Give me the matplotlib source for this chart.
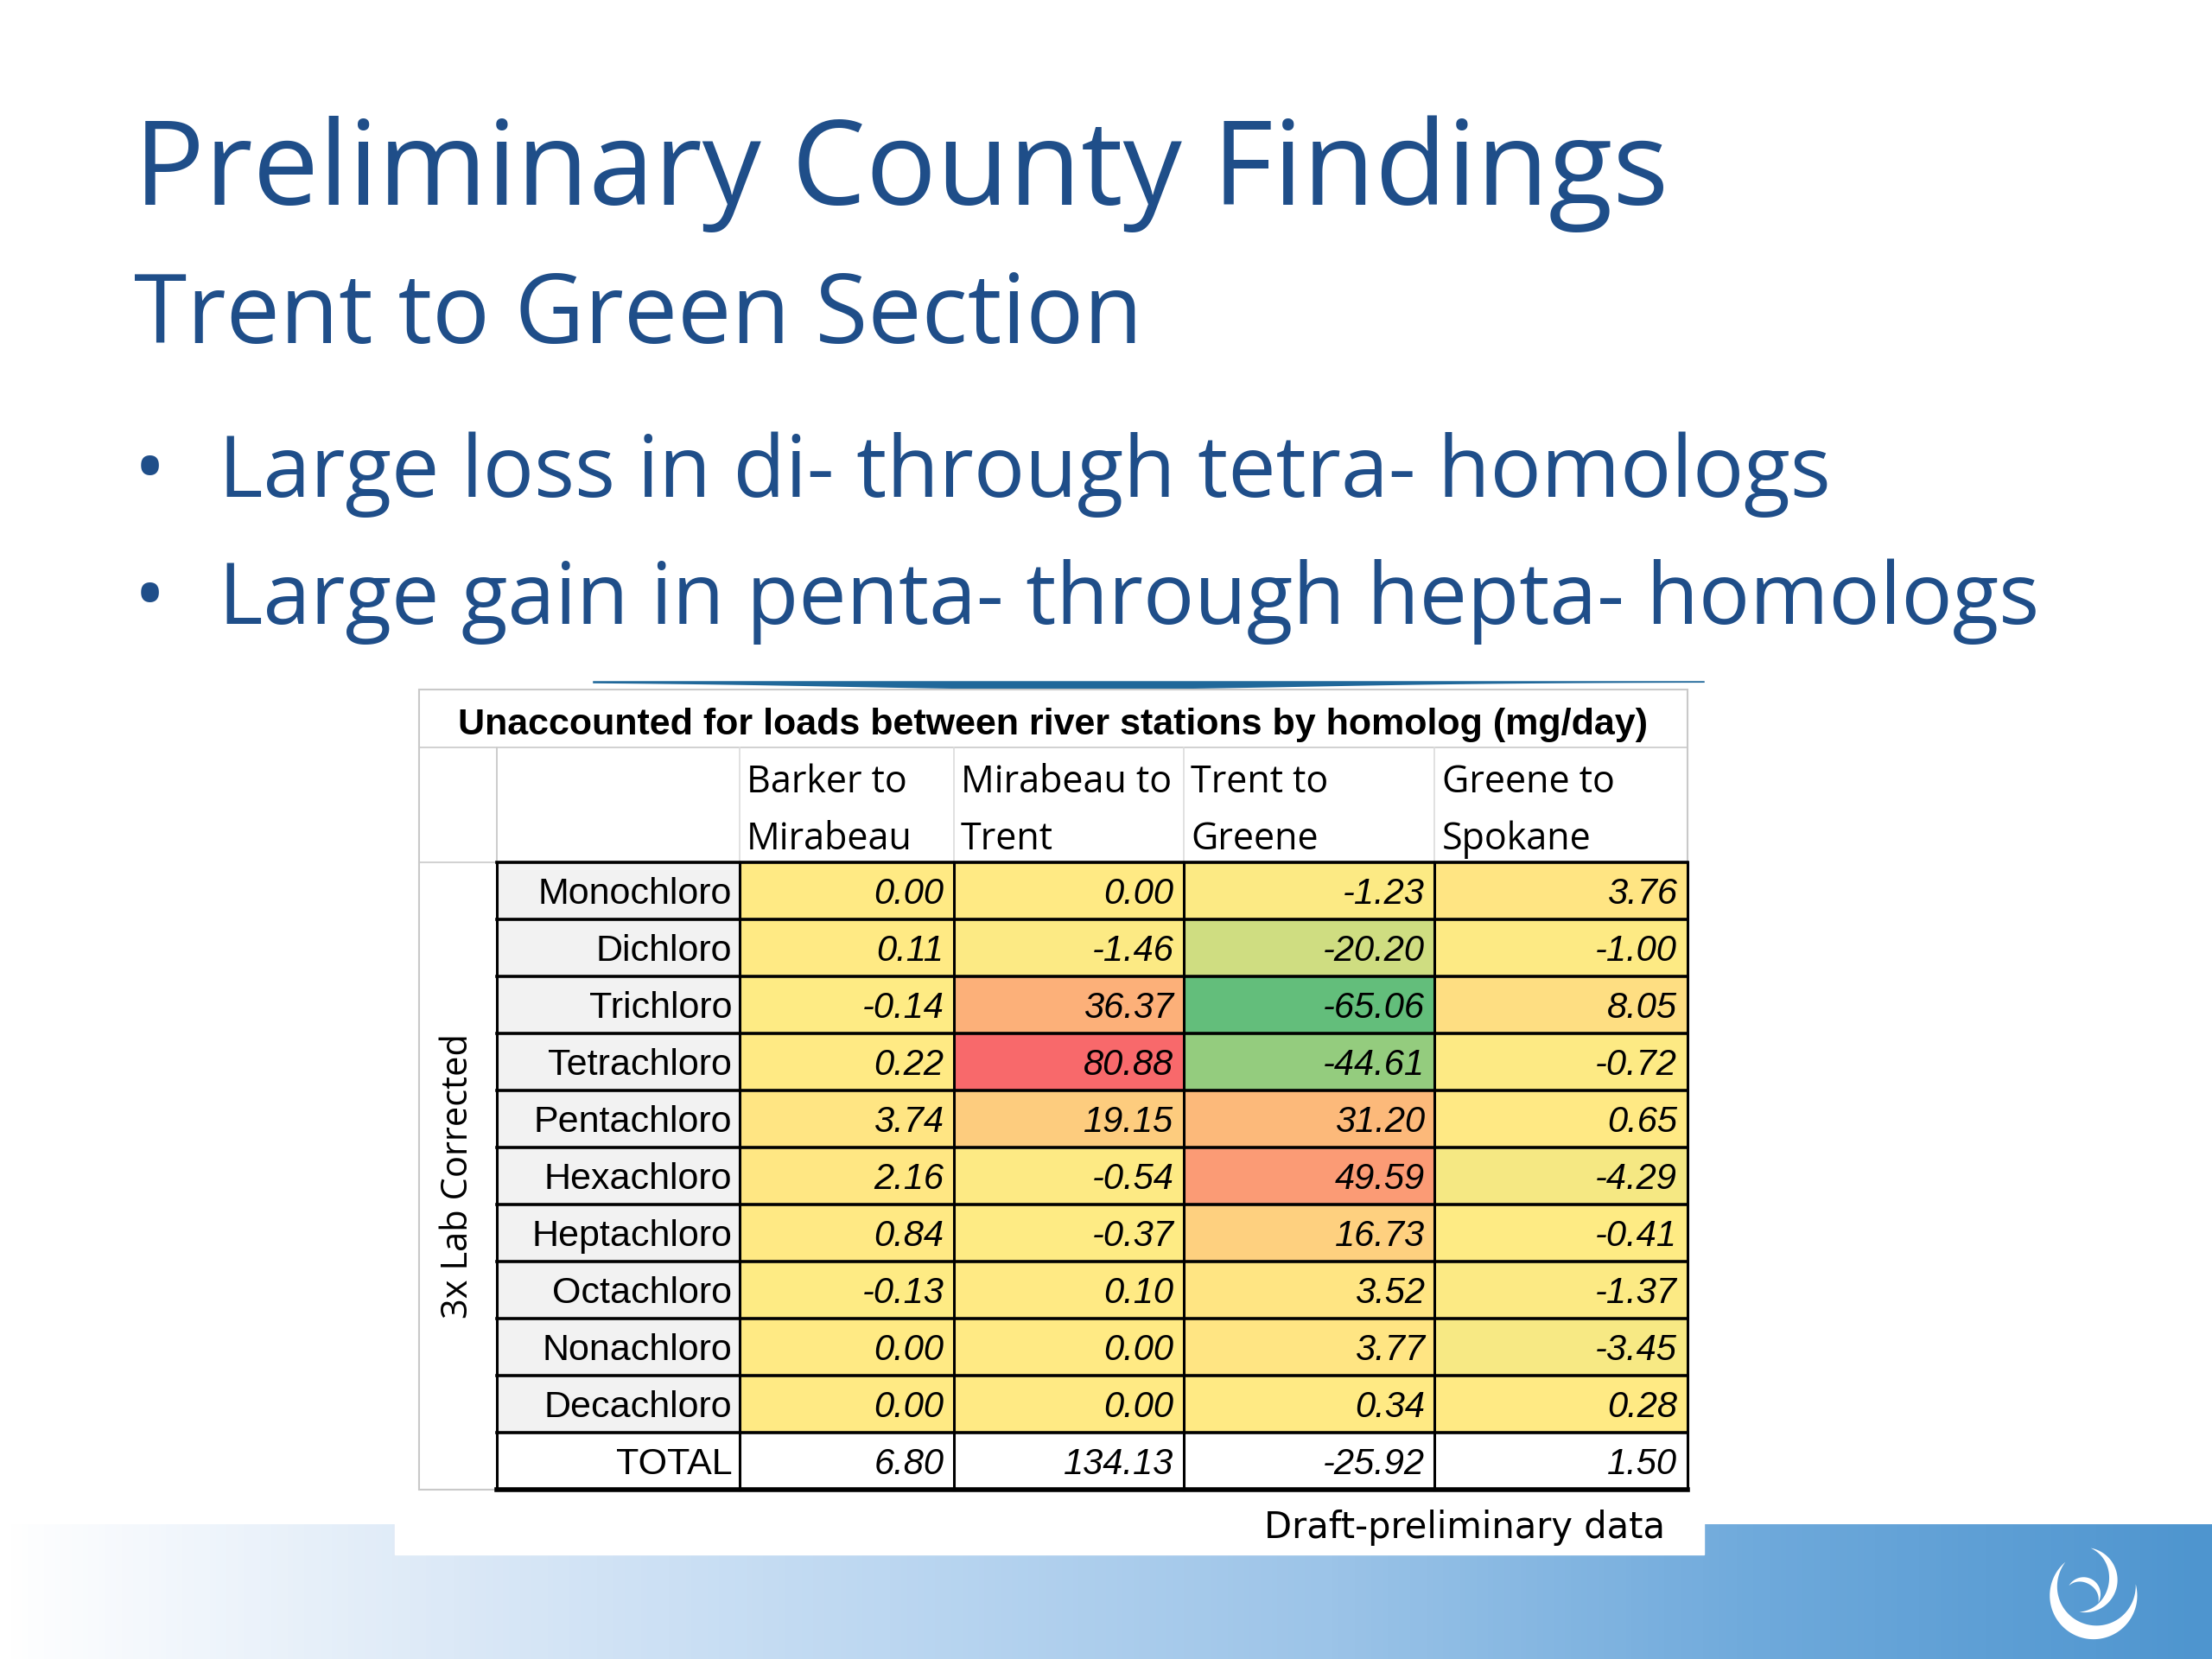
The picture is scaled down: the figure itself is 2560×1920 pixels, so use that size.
import numpy as np
import matplotlib.pyplot as plt
from matplotlib.colors import LinearSegmentedColormap, TwoSlopeNorm
from matplotlib.patches import Rectangle, Polygon

# slide text
title = 'Preliminary County Findings'
subtitle = 'Trent to Green Section'
bullets = ['Large loss in di- through tetra- homologs',
           'Large gain in penta- through hepta- homologs']
table_title = 'Unaccounted for loads between river stations by homolog (mg/day)'
side_label = '3x Lab Corrected'
note = 'Draft-preliminary data'

# table data (mg/day)
col_headers = [('Barker to', 'Mirabeau'), ('Mirabeau to', 'Trent'),
               ('Trent to', 'Greene'), ('Greene to', 'Spokane')]
homologs = ['Monochloro', 'Dichloro', 'Trichloro', 'Tetrachloro', 'Pentachloro',
            'Hexachloro', 'Heptachloro', 'Octachloro', 'Nonachloro', 'Decachloro']
barker_to_mirabeau = [0.00, 0.11, -0.14, 0.22, 3.74, 2.16, 0.84, -0.13, 0.00, 0.00]
mirabeau_to_trent = [0.00, -1.46, 36.37, 80.88, 19.15, -0.54, -0.37, 0.10, 0.00, 0.00]
trent_to_greene = [-1.23, -20.20, -65.06, -44.61, 31.20, 49.59, 16.73, 3.52, 3.77, 0.34]
greene_to_spokane = [3.76, -1.00, 8.05, -0.72, 0.65, -4.29, -0.41, -1.37, -3.45, 0.28]
totals = [6.80, 134.13, -25.92, 1.50]

W, H = 1568, 1176
navy = '#1f4e89'

fig = plt.figure(figsize=(25.6, 19.2), dpi=100)
ax = fig.add_axes([0, 0, 1, 1])
ax.set_xlim(0, W)
ax.set_ylim(H, 0)
ax.axis('off')

# bottom gradient band + white box behind the note
band = LinearSegmentedColormap.from_list(
    'band', ['#ffffff', '#dce9f7', '#bcd7f1', '#9cc4e8', '#6ea9db', '#4e95cf'])
ax.imshow(np.linspace(0, 1, 400)[None, :], extent=(0, W, H, 1081),
          aspect='auto', cmap=band, zorder=0)
ax.add_patch(Rectangle((280, 1070), 928, 32, color='white', zorder=1))

# logo swirl
def crescent(cx, cy, r, a0, a1, w):
    t = np.radians(np.linspace(a0, a1, 80))
    taper = np.sin(np.linspace(0, np.pi, 80))
    outer = np.c_[cx + r * np.cos(t), cy + r * np.sin(t)]
    ri = r - w * taper
    inner = np.c_[cx + ri * np.cos(t), cy + ri * np.sin(t)][::-1]
    return Polygon(np.vstack([outer, inner]), closed=True, color='white', lw=0, zorder=3)

ax.add_patch(crescent(1484, 1131, 31, -15, 230, 10))
ax.add_patch(crescent(1478, 1120, 23, -80, 100, 6))
ax.add_patch(crescent(1477, 1130, 12, -150, 30, 4))

# headings
ax.text(95, 145, title, fontsize=98, color=navy, family='Open Sans', va='baseline')
ax.text(95, 243, subtitle, fontsize=80, color=navy, family='Open Sans', va='baseline')
for i, b in enumerate(bullets):
    y = 352 + 90 * i
    ax.text(95, y, '\u2022', fontsize=71, color=navy, family='Open Sans', va='baseline')
    ax.text(155, y, b, fontsize=71, color=navy, family='Open Sans', va='baseline')

# swoosh above the table
xs = np.linspace(420, 1208, 300)
thick = 1.0 + 5.0 * np.exp(-((xs - 760) / 230.0) ** 2)
ax.fill_between(xs, 482.5, 482.5 + thick, color='#20689a', lw=0, zorder=2)

# table geometry
cols = [297, 352, 524, 676, 839, 1017, 1196]
top, head_top, body_top, bottom = 489, 530, 611, 1056
n_rows = len(homologs) + 1
row_edges = np.linspace(body_top, bottom, n_rows + 1)
grey = '#c9c9c9'

ax.add_patch(Rectangle((cols[0], top), cols[-1] - cols[0], bottom - top,
                       facecolor='white', edgecolor=grey, lw=1.5, zorder=2))
ax.plot([cols[0], cols[-1]], [head_top, head_top], color=grey, lw=1.2, zorder=3)
ax.plot([cols[0], cols[1]], [body_top, body_top], color=grey, lw=1.2, zorder=3)
for x in cols[1:-1]:
    ax.plot([x, x], [head_top, body_top], color='#dcdcdc', lw=1.2, zorder=3)
ax.plot([cols[1], cols[1]], [head_top, bottom], color=grey, lw=1.2, zorder=3)

ax.text((cols[0] + cols[-1]) / 2, 514, table_title, fontsize=31, weight='bold',
        family='Liberation Sans', ha='center', va='center', zorder=4)
for j, (l1, l2) in enumerate(col_headers):
    x = cols[j + 2] + 5
    ax.text(x, 555, l1, fontsize=31, family='Open Sans', va='center', zorder=4)
    ax.text(x, 595, l2, fontsize=31, family='Open Sans', va='center', zorder=4)

# row label cells
ax.add_patch(Rectangle((cols[1], body_top), cols[2] - cols[1], row_edges[-2] - body_top,
                       color='#f2f2f2', zorder=2))

# colour scaled cells
values = np.array([barker_to_mirabeau, mirabeau_to_trent, trent_to_greene, greene_to_spokane]).T
rgy = LinearSegmentedColormap.from_list('rgy', ['#63be7b', '#ffeb84', '#f8696b'])
norm = TwoSlopeNorm(vmin=values.min(), vcenter=np.median(values), vmax=values.max())
ax.pcolormesh(cols[2:], row_edges[:-1], values, cmap=rgy, norm=norm, zorder=2)

for i, name in enumerate(homologs + ['TOTAL']):
    yc = (row_edges[i] + row_edges[i + 1]) / 2 + 2.5
    ax.text(cols[2] - 5, yc, name, fontsize=31, family='Liberation Sans',
            ha='right', va='center', zorder=4)
    row = values[i] if i < len(homologs) else totals
    for j, v in enumerate(row):
        ax.text(cols[j + 3] - 7, yc, f'{v:.2f}', fontsize=30, style='italic',
                family='Liberation Sans', ha='right', va='center', zorder=4)

# black grid of the body
for y in row_edges:
    ax.plot([cols[1], cols[-1]], [y, y], color='black', lw=2.6, zorder=3)
ax.plot([cols[1], cols[-1]], [bottom, bottom], color='black', lw=4, zorder=3)
for x in cols[1:]:
    ax.plot([x, x], [body_top, bottom], color='black', lw=2.2, zorder=3)

ax.text((cols[0] + cols[1]) / 2, (body_top + bottom) / 2, side_label, fontsize=30,
        family='Open Sans', rotation=90, ha='center', va='center', zorder=4)

ax.text(1180, 1083, note, fontsize=30, family='DejaVu Sans', ha='right', va='center', zorder=4)

fig.savefig('out.png', dpi=100)
